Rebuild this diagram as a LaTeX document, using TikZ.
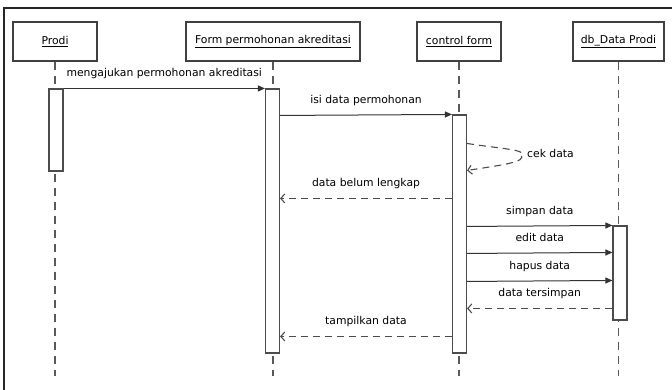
\documentclass[tikz,border=0pt]{standalone}
\usepackage{fontspec}
\setmainfont{DejaVu Sans}
\usetikzlibrary{positioning, calc, arrows.meta}

\begin{document}
\begin{tikzpicture}[x=1pt, y=-1pt, font=\fontsize{10.8}{12}\selectfont, text=black,
  head/.style={rectangle, draw=black!75, line width=1.1pt, fill=white, minimum height=39pt, inner sep=0pt},
  act/.style={rectangle, draw=black!70, line width=1.1pt, fill=white, minimum width=14pt, inner sep=0pt},
  lifeline/.style={-, draw=black!65, line width=1.1pt, dash pattern=on 8pt off 6pt},
  msg/.style={-{Triangle[length=7pt,width=6pt]}, draw=black!80, line width=1pt},
  ret/.style={-{Straight Barb[length=4pt,width=9pt]}, draw=black!70, line width=1.1pt, dash pattern=on 7pt off 5pt},
  lbl/.style={text height=7.5pt, text depth=2pt, inner sep=1pt}]
\useasboundingbox (0,0) rectangle (672,389);
\clip (0,0) rectangle (672,389);
\draw [black!85, line width=1.1pt] (4,8) rectangle (690,400);
\node (prodi) [head, minimum width=84pt] at (55,41.5) {\underline{Prodi}};
\node (form) [head, minimum width=174pt] at (273,41.5) {\underline{Form permohonan akreditasi}};
\node (ctrl) [head, minimum width=84pt] at (459,41.5) {\underline{control form}};
\node (db) [head, minimum width=91pt] at (618.5,41.5) {\underline{db\_Data Prodi}};
  \begin{scope}
    \draw [lifeline] (prodi.south) -- ++(0,314);
    \draw [lifeline] (form.south) -- ++(0,314);
    \draw [lifeline] (ctrl.south) -- ++(0,314);
    \draw [lifeline] (db.south) -- ++(0,314);
    \node (actP) [act, minimum height=82pt] at (56,130) {};
    \node (actF) [act, minimum height=264pt] at (272.5,221) {};
    \node (actC) [act, minimum height=238pt] at (459.5,234) {};
    \node (actD) [act, minimum height=94pt] at (620,273) {};
    \draw [msg] (actP.north east) -- (actF.north west) node [lbl, midway, above=8pt] {mengajukan permohonan akreditasi};
    \draw [msg] ($(actF.north east)+(0,27)$) -- (actC.north west) node [lbl, midway, above=8pt] {isi data permohonan};
    \coordinate (cek) at (520,155);
    \draw [ret] ($(actC.north east)+(0,29)$) .. controls (495,148) and (530,150) .. (cek) .. controls (530,162) and (495,166) .. ($(actC.north east)+(0,56)$);
    \node (ceklbl) [lbl, right=6pt of cek] {cek data};
    \draw [ret] ($(actC.north west)+(0,84)$) -- ($(actF.north east)+(0,110)$) node [lbl, midway, above=8pt] {data belum lengkap};
    \draw [msg] ($(actC.north east)+(0,112)$) -- (actD.north west) node [lbl, midway, above=8pt] {simpan data};
    \draw [msg] ($(actC.north east)+(0,139)$) -- ($(actD.north west)+(0,27)$) node [lbl, midway, above=8pt] {edit data};
    \draw [msg] ($(actC.north east)+(0,167)$) -- ($(actD.north west)+(0,55)$) node [lbl, midway, above=8pt] {hapus data};
    \draw [ret] ($(actD.north west)+(0,83)$) -- ($(actC.north east)+(0,194)$) node [lbl, midway, above=8pt] {data tersimpan};
    \draw [ret] ($(actC.north west)+(0,222)$) -- ($(actF.north east)+(0,248)$) node [lbl, midway, above=8pt] {tampilkan data};
  \end{scope}
\end{tikzpicture}
\end{document}
